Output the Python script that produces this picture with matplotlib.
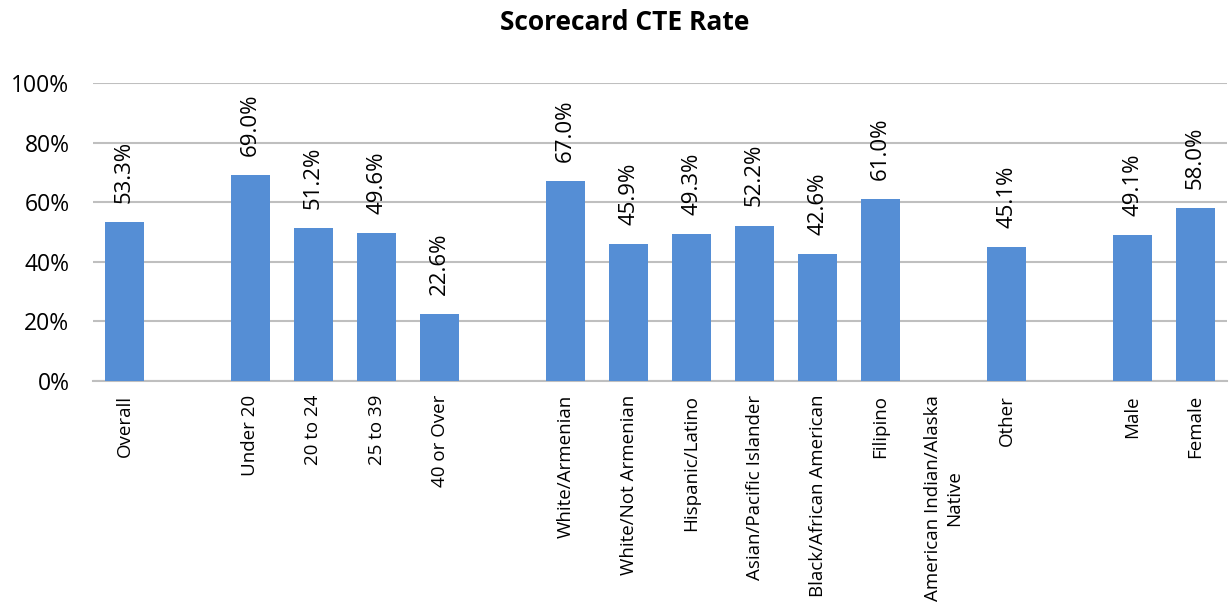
import numpy as np
import matplotlib
matplotlib.use('Agg')
import matplotlib.pyplot as plt
from matplotlib.ticker import PercentFormatter

plt.rcParams['font.family'] = ['Open Sans', 'DejaVu Sans']

# blank strings are spacer slots between groups
categories = ['Overall', '', 'Under 20', '20 to 24', '25 to 39', '40 or Over', '',
              'White/Armenian', 'White/Not Armenian', 'Hispanic/Latino',
              'Asian/Pacific Islander', 'Black/African American', 'Filipino',
              'American Indian/Alaska\nNative', 'Other', '', 'Male', 'Female']
rates = [53.3, np.nan, 69.0, 51.2, 49.6, 22.6, np.nan,
         67.0, 45.9, 49.3, 52.2, 42.6, 61.0,
         np.nan, 45.1, np.nan, 49.1, 58.0]

fig = plt.figure(figsize=(12.3, 6.02), dpi=100)
ax = fig.add_axes([0.0756, 0.367, 0.922, 0.495])

x = np.arange(len(categories))
vals = np.array(rates) / 100
ax.bar(x, np.nan_to_num(vals), width=0.63, color='#558ED5', zorder=3)

for xi, v in zip(x, rates):
    if not np.isnan(v):
        ax.text(xi, v / 100 + 0.064, f'{v:.1f}%', rotation=90, ha='center', va='bottom',
                fontsize=16, zorder=4)

ax.set_xlim(-0.5, len(categories) - 0.5)
ax.set_ylim(0, 1.0)
ax.set_yticks(np.arange(0, 1.01, 0.2))
ax.yaxis.set_major_formatter(PercentFormatter(1.0, decimals=0))
ax.set_xticks(x)
ax.set_xticklabels(categories, rotation=90, fontsize=13.5, va='top', ha='center',
                   multialignment='center')
ax.tick_params(axis='y', labelsize=16.5, length=0, pad=17)
ax.tick_params(axis='x', length=0, pad=10)
ax.grid(axis='y', color='#BFBFBF', linewidth=1.5, zorder=0)
for s in ['top', 'right', 'left']:
    ax.spines[s].set_visible(False)
ax.spines['bottom'].set_color('#BFBFBF')
ax.spines['bottom'].set_linewidth(1.5)

fig.text(0.508, 0.962, 'Scorecard CTE Rate', ha='center', va='center',
         fontsize=19, fontweight='bold')

fig.savefig('out.png', dpi=100)
